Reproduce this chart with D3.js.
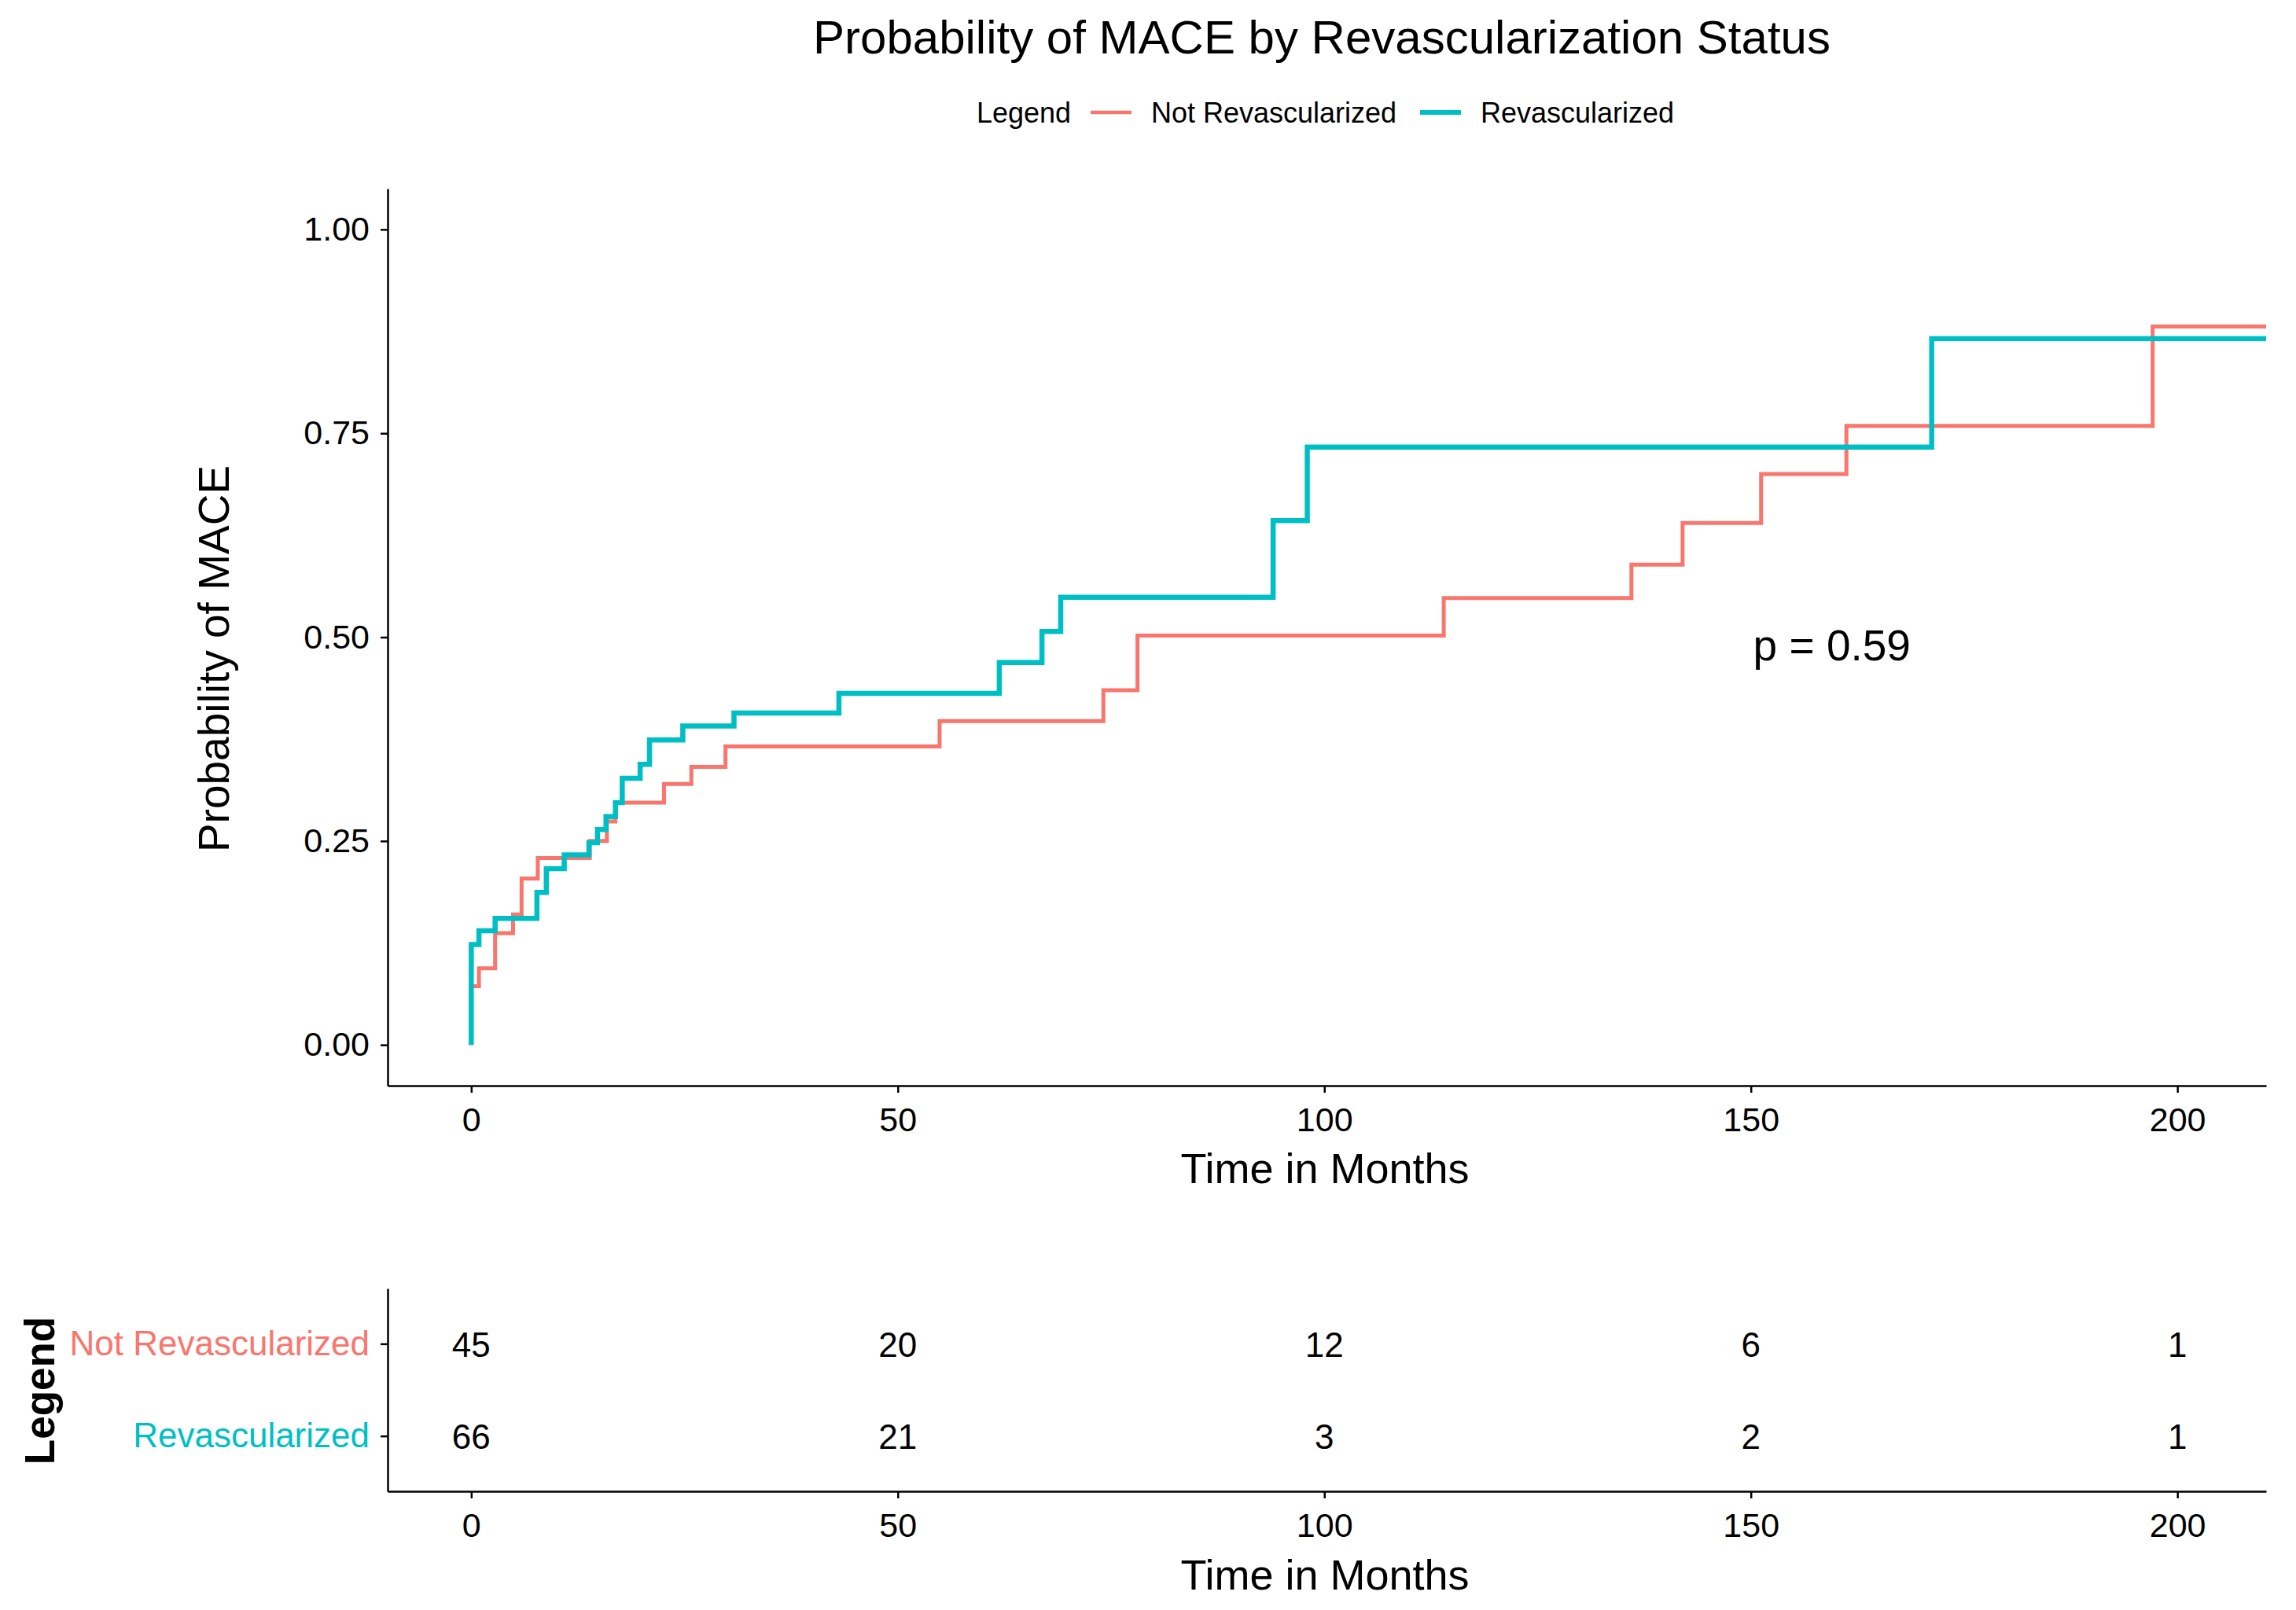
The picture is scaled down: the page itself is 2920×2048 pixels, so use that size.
<!DOCTYPE html>
<html>
<head>
<meta charset="utf-8">
<script src="https://cdn.jsdelivr.net/npm/d3@7"></script>
<style>
  body { margin: 0; background: #fff; }
  text { font-family: "Liberation Sans", Arial, sans-serif; }
  .axis path, .axis line { stroke: #000; }
</style>
</head>
<body>
<script>
var width = 2920;
var height = 2048;

// Kaplan-Meier style cumulative curves (time in months, probability of MACE)
var revTimes = [0, 0, 0.9, 2.8, 7.7, 8.8, 10.9, 13.8, 14.8, 15.8, 16.9, 17.7, 19.8, 20.9, 24.8, 30.8, 43.1, 61.9, 66.9, 69.1, 94, 98, 171.2, 210.4];
var revProb  = [0, 0.123, 0.14, 0.155, 0.187, 0.216, 0.233, 0.248, 0.264, 0.28, 0.297, 0.327, 0.344, 0.374, 0.391, 0.407, 0.431, 0.469, 0.507, 0.549, 0.643, 0.733, 0.866, 0.866];

var notTimes = [0, 0, 0.9, 2.8, 4.9, 5.9, 7.8, 13.9, 15.9, 16.9, 22.6, 25.8, 29.8, 54.9, 74.1, 78.1, 114, 136, 142, 151.2, 161.2, 197.1, 210.4];
var notProb  = [0, 0.072, 0.094, 0.137, 0.16, 0.204, 0.229, 0.25, 0.274, 0.297, 0.32, 0.341, 0.366, 0.397, 0.435, 0.502, 0.548, 0.589, 0.64, 0.7, 0.759, 0.881, 0.881];

// risk table
var riskMonths = [0, 50, 100, 150, 200];
var notRisk = [45, 20, 12, 6, 1];
var revRisk = [66, 21, 3, 2, 1];

var groups = ["Not Revascularized", "Revascularized"];
var colors = ["#F8766D", "#00BFC4"];

var xTicks = [0, 50, 100, 150, 200];
var yTicks = [0, 0.25, 0.5, 0.75, 1];

var svg = d3.select("body").append("svg")
    .attr("width", width)
    .attr("height", height);

var x = d3.scaleLinear().domain([-9.8, 210.4]).range([493, 2882]);
var y = d3.scaleLinear().domain([-0.05, 1.05]).range([1381, 240]);

// title
svg.append("text")
    .attr("x", 1681).attr("y", 68)
    .attr("text-anchor", "middle")
    .style("font-size", "60px")
    .text("Probability of MACE by Revascularization Status");

// top legend
var leg = svg.append("g").attr("transform", "translate(0,143)");
leg.append("text").attr("x", 1242).attr("y", 0).attr("dy", "0.35em")
    .style("font-size", "36px").text("Legend");
var legX = [1387, 1806];
groups.forEach(function (g, i) {
    leg.append("line")
        .attr("x1", legX[i]).attr("x2", legX[i] + 52)
        .attr("y1", 0).attr("y2", 0)
        .style("stroke", colors[i])
        .style("stroke-width", i == 1 ? 6 : 4.5);
    leg.append("text").attr("x", legX[i] + 77).attr("y", 0).attr("dy", "0.35em")
        .style("font-size", "36px").text(g);
});

function styleAxis(a) {
    a.select(".domain").style("stroke-width", 2.5);
    a.selectAll(".tick line").style("stroke-width", 2.5);
    a.selectAll(".tick text")
        .style("font-size", "43px")
        .style("font-family", "'Liberation Sans', Arial, sans-serif")
        .style("fill", "#000");
}

// axes
var xAxis = svg.append("g").attr("class", "axis")
    .attr("transform", "translate(0,1381)")
    .call(d3.axisBottom(x).tickValues(xTicks).tickSize(9).tickSizeOuter(0).tickPadding(18));
var yAxis = svg.append("g").attr("class", "axis")
    .attr("transform", "translate(493,0)")
    .call(d3.axisLeft(y).tickValues(yTicks).tickFormat(d3.format(".2f")).tickSize(9).tickSizeOuter(0).tickPadding(14));
styleAxis(xAxis);
styleAxis(yAxis);

svg.append("text")
    .attr("x", 1685).attr("y", 1505)
    .attr("text-anchor", "middle")
    .style("font-size", "54px")
    .text("Time in Months");

svg.append("text")
    .attr("transform", "translate(291,838) rotate(-90)")
    .attr("text-anchor", "middle")
    .style("font-size", "55px")
    .text("Probability of MACE");

// curves
var line = d3.line()
    .x(function (d) { return x(d[0]); })
    .y(function (d) { return y(d[1]); })
    .curve(d3.curveStepAfter);

var series = [
    d3.zip(notTimes, notProb),
    d3.zip(revTimes, revProb)
];
series.forEach(function (s, i) {
    svg.append("path")
        .datum(s)
        .attr("d", line)
        .style("fill", "none")
        .style("stroke", colors[i])
        .style("stroke-width", i == 1 ? 6.5 : 5);
});

svg.append("text")
    .attr("x", x(159.5)).attr("y", y(0.49)).attr("dy", "0.35em")
    .attr("text-anchor", "middle")
    .style("font-size", "55px")
    .text("p = 0.59");

// risk table
var ry = d3.scalePoint().domain(groups).range([1639, 1897]).padding(0.6);

var rxAxis = svg.append("g").attr("class", "axis")
    .attr("transform", "translate(0,1897)")
    .call(d3.axisBottom(x).tickValues(xTicks).tickSize(9).tickSizeOuter(0).tickPadding(18));
var ryAxis = svg.append("g").attr("class", "axis")
    .attr("transform", "translate(493,0)")
    .call(d3.axisLeft(ry).tickSize(9).tickSizeOuter(0).tickPadding(14));
styleAxis(rxAxis);
styleAxis(ryAxis);
ryAxis.selectAll(".tick text")
    .style("fill", function (d) { return colors[groups.indexOf(d)]; })
    .style("font-size", "44px");

[notRisk, revRisk].forEach(function (vals, gi) {
    svg.selectAll(".risk" + gi)
        .data(vals)
        .enter().append("text")
        .attr("class", "risk" + gi)
        .attr("x", function (d, i) { return x(riskMonths[i]); })
        .attr("y", ry(groups[gi]))
        .attr("dy", "0.38em")
        .attr("text-anchor", "middle")
        .style("font-size", "44px")
        .text(function (d) { return d; });
});

svg.append("text")
    .attr("x", 1685).attr("y", 2022)
    .attr("text-anchor", "middle")
    .style("font-size", "54px")
    .text("Time in Months");

svg.append("text")
    .attr("transform", "translate(69,1769) rotate(-90)")
    .attr("text-anchor", "middle")
    .style("font-size", "53px")
    .style("font-weight", "bold")
    .text("Legend");
</script>
</body>
</html>
